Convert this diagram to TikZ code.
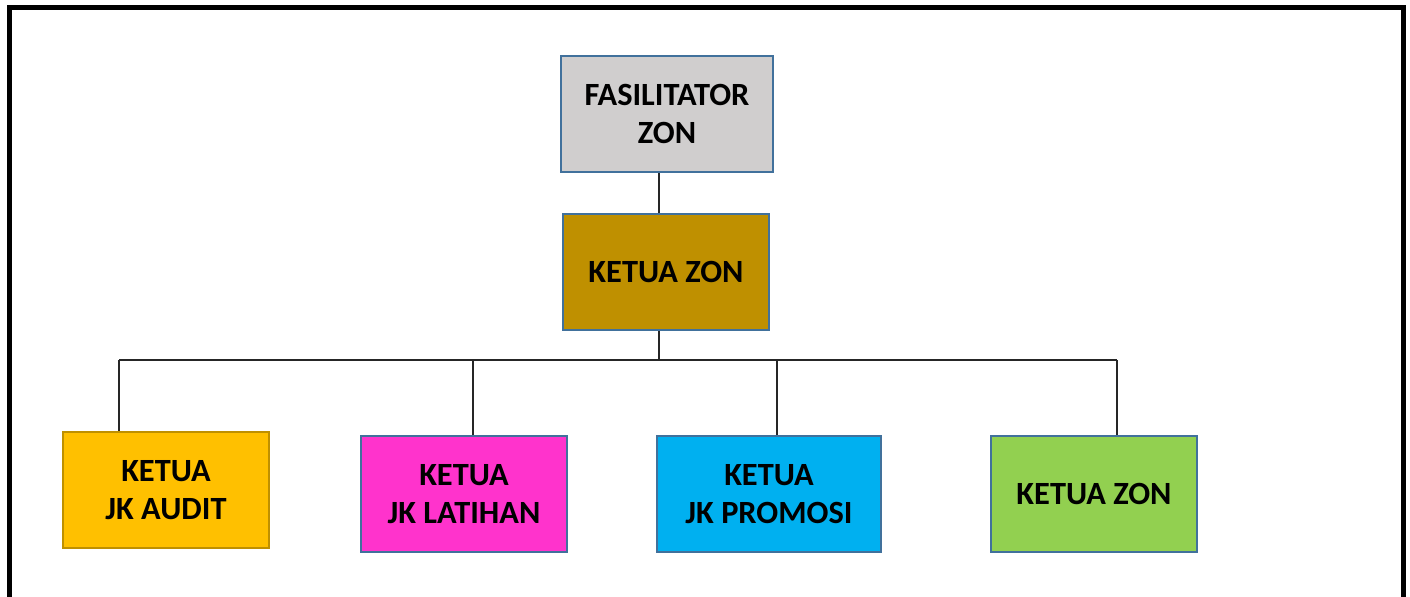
\documentclass[tikz,border=0pt]{standalone}
\usepackage{fontspec}
\setmainfont{Carlito}
\definecolor{boxedge}{HTML}{41719C}
\definecolor{fasigray}{HTML}{D0CECE}
\definecolor{ketuagold}{HTML}{BF9000}
\definecolor{audityellow}{HTML}{FFC000}
\definecolor{latihanpink}{HTML}{FF33CC}
\definecolor{promosiblue}{HTML}{00B0F0}
\definecolor{zongreen}{HTML}{92D050}
\begin{document}
\begin{tikzpicture}[x=0.5pt,y=-0.5pt,
        box/.style={draw=boxedge, line width=1.4pt, minimum width=103pt, minimum height=58pt,
            align=center, inner sep=0pt, font=\bfseries\fontsize{16.2}{19}\selectfont},
        link/.style={draw=black!85, line width=0.7pt}]
        \useasboundingbox (0,0) rectangle (1410,596);
        % frame, open at the bottom
        \draw[line width=2.6pt] (9.5,610) -- (9.5,7.5) -- (1403.5,7.5) -- (1403.5,610);
        % boxes
        \node[box, fill=fasigray, minimum width=106pt] (fz) at (667,114) {FASILITATOR\\ZON};
        \node[box, fill=ketuagold] (kz) at (666,272) {KETUA ZON};
        \node[box, fill=audityellow, draw=ketuagold] (ja) at (166,490) {KETUA\\JK AUDIT};
        \node[box, fill=latihanpink] (jl) at (464,494) {KETUA\\JK LATIHAN};
        \node[box, fill=promosiblue, minimum width=112pt] (jp) at (769,494) {KETUA\\JK PROMOSI};
        \node[box, fill=zongreen] (kg) at (1094,494) {KETUA ZON};
        % bus line
        \coordinate (bus) at (659,360);
        \coordinate (d1) at (119,360);
        \coordinate (d2) at (473,360);
        \coordinate (d3) at (777,360);
        \coordinate (d4) at (1117,360);
        \draw[link] (bus |- fz.south) -- (bus |- kz.north);
        \draw[link] (bus |- kz.south) -- (bus);
        \draw[link] (d1) -- (d4);
        \draw[link] (d1) -- (d1 |- ja.north);
        \draw[link] (d2) -- (d2 |- jl.north);
        \draw[link] (d3) -- (d3 |- jp.north);
        \draw[link] (d4) -- (d4 |- kg.north);
    \end{tikzpicture}
\end{document}
